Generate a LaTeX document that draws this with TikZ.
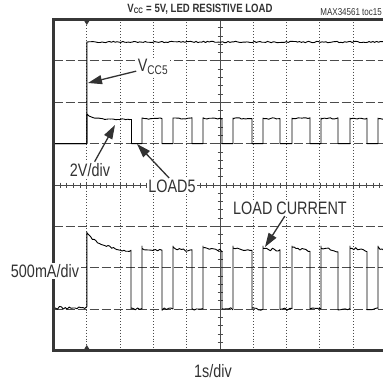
\documentclass[tikz,border=0pt]{standalone}
\usepackage{fontspec}
\setmainfont{Liberation Sans}[FakeStretch=0.8]
\usetikzlibrary{arrows.meta}
\definecolor{framegray}{RGB}{55, 55, 55}
\definecolor{gridgray}{RGB}{75, 75, 75}
\definecolor{textgray}{RGB}{50, 50, 50}

\begin{document}
\begin{tikzpicture}[
			x=1pt, y=-1pt,
			frame/.style={line width=3pt, draw=framegray},
			hgrid/.style={line width=0.9pt, draw=gridgray, dash pattern=on 9pt off 3pt},
			vgrid/.style={line width=0.9pt, draw=gridgray, dotted},
			trace/.style={line width=0.9pt, draw=black, line join=round},
			lbl/.style={font=\fontsize{18}{20}\selectfont, text=textgray, fill=white, inner sep=1.5pt},
			pointer/.style={line width=1.3pt, draw=textgray, -{Triangle[length=14pt, width=9pt]}}
		]
		\clip (0,0) rectangle (383,381);
		\pgfmathsetseed{11}

		% graticule
		\foreach \k in {1,2,3,5,6,7}
			\draw[hgrid] (53.5,{19.5+41.375*\k}) -- (390,{19.5+41.375*\k});
		\foreach \k in {1,2,3,4,6,7,8,9}
			\draw[vgrid] ({53.5+33.3*\k},19.5) -- ({53.5+33.3*\k},350.5);
		\draw[gridgray, line width=0.8pt] (53.5,185) -- (390,185);
		\foreach \t in {1,...,50}
			\draw[gridgray, line width=0.8pt] ({53.5+6.66*\t},182.5) -- ++(0,5);
		\draw[gridgray, line width=0.8pt] (220,19.5) -- (220,350.5);
		\foreach \t in {1,...,39}
			\draw[gridgray, line width=0.8pt] (217.5,{19.5+8.275*\t}) -- ++(5,0);
		\fill[framegray] (84.3,349) -- (89.3,349) -- (86.8,345) -- cycle;
		\fill[framegray] (84.3,21) -- (89.3,21) -- (86.8,25) -- cycle;

		% VCC5
		\draw[trace] (53.5,143.6) -- (86.8,143.6) -- (86.8,42)
			-- plot[domain=87:386, samples=160] (\x,{42+0.7*rand});

		% LOAD5
		\draw[trace] (53.5,143.6) -- (86.8,143.6) -- (86.8,114)
			-- plot[domain=87:131.5, samples=24] (\x,{119.5-5*exp(-(\x-87)/8)+0.6*rand})
			-- (131.5,143.6) -- (142,143.6);
		\foreach \a/\b/\c in {142/162/173, 173/192/203, 203/222/233, 233/252/263, 263/280/292,
				292/310/321, 321/338/350, 350/367/378, 378/396/408}
			\draw[trace] (\a,143.6) -- (\a,118)
				-- plot[domain=\a:\b, samples=10] (\x,{118.5+0.7*rand})
				-- (\b,143.6) -- (\c,143.6);

		% load current
		\draw[trace] plot[domain=53.5:86.8, samples=18] (\x,{308+1.5*rand}) -- (86.8,232)
			-- plot[domain=87:131, samples=26] (\x,{254-20*exp(-(\x-87)/22)+1.3*rand})
			-- (131,309) -- plot[domain=131:142, samples=6] (\x,{309+1.2*rand});
		\foreach \a/\b/\c in {142/162/173, 173/192/203, 203/222/233, 233/252/263, 263/280/292,
				292/310/321, 321/338/350, 350/367/378, 378/396/408}
			\draw[trace] (\a,309) -- (\a,246)
				-- plot[domain=\a:\b, samples=10] (\x,{248+3*(\x-\a)/(\b-\a)+1.5*rand})
				-- (\b,309) -- plot[domain=\b:\c, samples=6] (\x,{309+1.2*rand});

		% frame
		\draw[frame] (53.5,19.5) rectangle (400,350.5);

		% labels
		\node[font=\bfseries\fontsize{12}{14}\selectfont, text=textgray, anchor=base, inner sep=0pt] (title) at (200,12)
			{V\textsubscript{CC} = 5V, LED RESISTIVE LOAD};
		\node[font=\fontsize{10}{12}\selectfont, text=textgray, anchor=base east, inner sep=0pt] (tag) at (382,15.5)
			{MAX34561 toc15};
		\node[lbl] (vcc) at (153,67) {V\textsubscript{CC5}};
		\node[lbl] (vdiv) at (90,170) {2V/div};
		\node[lbl] (load) at (172,186) {LOAD5};
		\node[lbl] (cur) at (290,208) {LOAD CURRENT};
		\node[lbl] (idiv) at (45,271) {500mA/div};
		\node[lbl, fill=none] (tdiv) at (213,371) {1s/div};

		% pointers
		\coordinate (vccpt) at (88,83);
		\coordinate (vdivpt) at (115,125);
		\coordinate (loadpt) at (137,144);
		\coordinate (curpt) at (265,247);
		\draw[pointer] (vcc) -- (vccpt);
		\draw[pointer] (vdiv) -- (vdivpt);
		\draw[pointer] (load.110) -- (loadpt);
		\draw[pointer] (cur) -- (curpt);

	\end{tikzpicture}
\end{document}
